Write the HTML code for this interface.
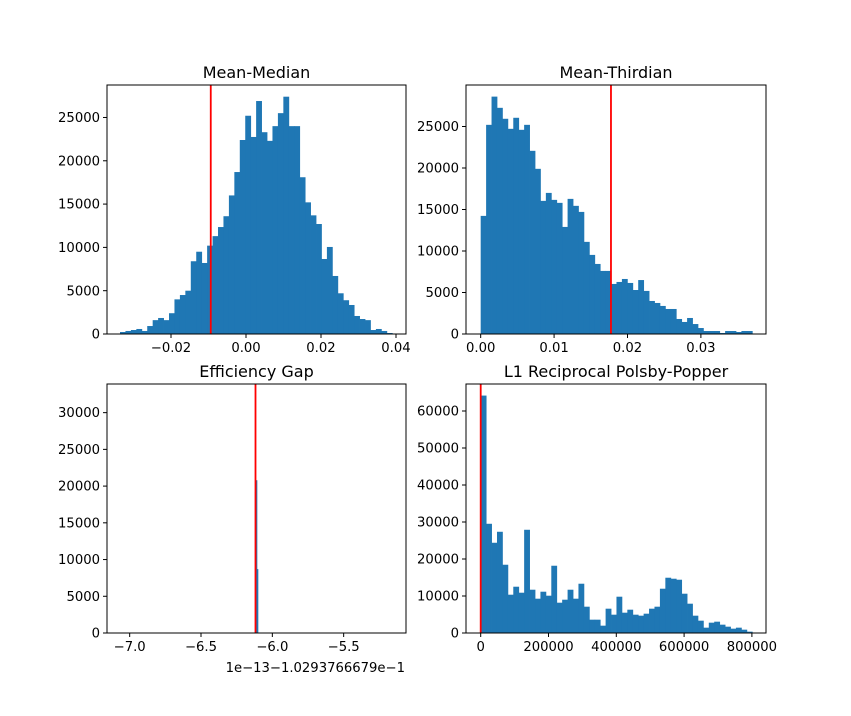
<!DOCTYPE html>
<html><head><meta charset="utf-8"><style>
body{margin:0;background:#fff}
svg text{font-family:"DejaVu Sans","Liberation Sans",sans-serif;fill:#000}
</style></head><body>
<svg id="fig" width="851" height="711" xmlns="http://www.w3.org/2000/svg"></svg>
<script>
// Mean-Median
const mmStart=-0.0336, mmEnd=0.039;
const mmCounts=[230,350,460,580,350,920,1600,1850,1600,2400,4000,4500,5000,8400,9500,8200,10200,11300,12350,13600,16000,18700,22400,25200,22750,26900,23300,22300,24000,25500,27400,24000,24000,18100,15200,13700,12700,8660,10050,6700,4700,3900,3350,2080,1730,1600,460,580,350,115];
const mmLine=-0.0094;
const mmXTicks=[-0.02,0,0.02,0.04], mmXLabels=["\u22120.02","0.00","0.02","0.04"];
const mmYTicks=[0,5000,10000,15000,20000,25000];
// Mean-Thirdian
const mtStart=0.0, mtEnd=0.037;
const mtCounts=[14230,25200,28600,27250,25930,24720,26050,24600,25200,22070,19900,16040,17000,16160,15800,12900,16280,15440,14710,11100,9530,8440,7600,7600,6030,6270,6630,6150,5300,6500,5190,3980,3740,3380,3015,3015,1810,1450,1930,1200,720,360,360,360,120,360,360,240,360,360];
const mtLine=0.01775;
const mtXTicks=[0,0.01,0.02,0.03], mtXLabels=["0.00","0.01","0.02","0.03"];
const mtYTicks=[0,5000,10000,15000,20000,25000];
// Efficiency Gap
const egEdges=[-6.122,-6.115,-6.108,-6.101];
const egCounts=[19200,20800,8700];
const egLine=-6.118;
const egXTicks=[-7.0,-6.5,-6.0,-5.5], egXLabels=["\u22127.0","\u22126.5","\u22126.0","\u22125.5"];
const egYTicks=[0,5000,10000,15000,20000,25000,30000];
// L1 Reciprocal Polsby-Popper
const ppStart=0, ppEnd=801000;
const ppCounts=[64170,29520,24390,27360,18450,10350,12510,10890,27900,11700,9270,11160,10080,18180,8190,9000,11700,9270,13320,7110,3600,3600,1980,6570,4950,9810,5490,6300,4950,4680,5220,6570,7110,11970,14940,14670,14400,10620,7920,4680,3330,1440,2790,3060,2250,1710,1170,1440,900,360];
const ppLine=0;
const ppXTicks=[0,200000,400000,600000,800000], ppXLabels=["0","200000","400000","600000","800000"];
const ppYTicks=[0,10000,20000,30000,40000,50000,60000];

const NS="http://www.w3.org/2000/svg", fig=document.getElementById('fig');
const TF=13.2, HF=16;
function mk(tag,attrs,parent){const e=document.createElementNS(NS,tag);for(const k in attrs)e.setAttribute(k,attrs[k]);(parent||fig).appendChild(e);return e;}
function panel(o){
  const g=mk('g',{});
  
  
  const sx=v=>o.L+(v-o.x0)/(o.x1-o.x0)*(o.R-o.L);
  const sy=v=>o.B-v/o.ymax*(o.B-o.T);
  o.edges.forEach((e,i)=>{ if(i>=o.counts.length) return;
    const xa=sx(e), xb=sx(o.edges[i+1]), yt=sy(o.counts[i]);
    const r=mk('rect',{x:xa,y:yt,width:Math.max(xb-xa,0.5)+0.4,height:o.B-yt,fill:'#1f77b4'},g);
    
    
  });
  const ln=mk('line',{x1:sx(o.line),x2:sx(o.line),y1:o.T,y2:o.B,stroke:'#ff0000','stroke-width':1.8},g);
  
  
  const fr=mk('rect',{x:o.L,y:o.T,width:o.R-o.L,height:o.B-o.T,fill:'none',stroke:'#000','stroke-width':1},g);
  
  
  o.xt.forEach((v,i)=>{const x=sx(v);
    mk('line',{x1:x,x2:x,y1:o.B,y2:o.B+4,stroke:'#000'},g);
    const t=mk('text',{x:x,y:o.B+18,'font-size':TF,'text-anchor':'middle'},g);t.textContent=o.xl[i];
    
    
  });
  o.yt.forEach(v=>{const y=sy(v);
    mk('line',{x1:o.L-4,x2:o.L,y1:y,y2:y,stroke:'#000'},g);
    const t=mk('text',{x:o.L-7,y:y+4.6,'font-size':TF,'text-anchor':'end'},g);t.textContent=String(v);
    
    
  });
  const ti=mk('text',{x:(o.L+o.R)/2,y:o.T-7,'font-size':HF,'text-anchor':'middle'},g);ti.textContent=o.title;
  
  
  return g;
}
function binEdges(a,b,n){const e=[];for(let i=0;i<=n;i++)e.push(a+(b-a)*i/n);return e;}
panel({name:'mean-median',title:'Mean-Median',L:107,R:406,T:85,B:334,x0:-0.03707,x1:0.04267,ymax:28750,edges:binEdges(mmStart,mmEnd,mmCounts.length),counts:mmCounts,line:mmLine,xt:mmXTicks,xl:mmXLabels,yt:mmYTicks});
panel({name:'mean-thirdian',title:'Mean-Thirdian',L:466,R:766,T:85,B:334,x0:-0.002,x1:0.03887,ymax:30000,edges:binEdges(mtStart,mtEnd,mtCounts.length),counts:mtCounts,line:mtLine,xt:mtXTicks,xl:mtXLabels,yt:mtYTicks});
panel({name:'efficiency-gap',title:'Efficiency Gap',L:107,R:406,T:384,B:633,x0:-7.159,x1:-5.063,ymax:33900,edges:egEdges,counts:egCounts,line:egLine,xt:egXTicks,xl:egXLabels,yt:egYTicks});
panel({name:'polsby-popper',title:'L1 Reciprocal Polsby-Popper',L:466,R:766,T:384,B:633,x0:-43360,x1:841600,ymax:67300,edges:binEdges(ppStart,ppEnd,ppCounts.length),counts:ppCounts,line:ppLine,xt:ppXTicks,xl:ppXLabels,yt:ppYTicks});
const off=mk('text',{x:405,y:672,'font-size':TF,'text-anchor':'end'});
off.textContent='1e\u221213\u22121.0293766679e\u22121';


</script>
</body></html>
